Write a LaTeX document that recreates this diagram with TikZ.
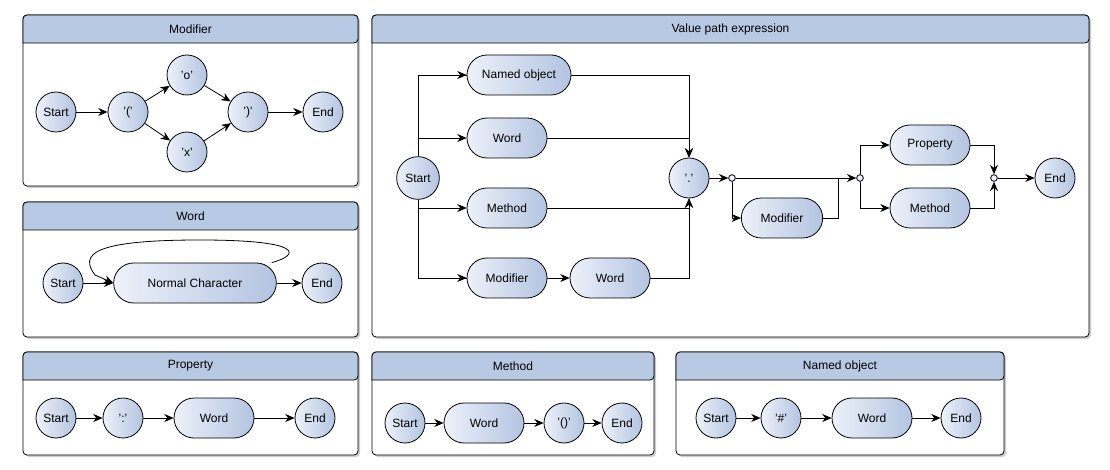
\documentclass[tikz,border=0pt]{standalone}
\usepackage{fontspec}
\setmainfont{Liberation Sans}
\usetikzlibrary{arrows.meta}
\definecolor{hd}{HTML}{B8C9E3}
\definecolor{lt}{HTML}{EDF1F9}
\definecolor{dk}{HTML}{B3C4E1}
\tikzset{
  st/.style={circle,draw,left color=lt,right color=dk,minimum size=30pt,inner sep=0pt,font=\fontsize{9}{10}\selectfont},
  rr/.style={rectangle,draw,rounded corners=15pt,left color=lt,right color=dk,minimum width=60pt,minimum height=30pt,inner sep=0pt,font=\fontsize{9}{10}\selectfont},
  jn/.style={circle,draw,fill=lt,minimum size=5pt,inner sep=0pt},
  ar/.style={-{Stealth[length=7pt,width=6pt]}},
}
\newcommand{\panel}[5]{%
  \fill[black!20,rounded corners=3pt] (#1+2,#2+2) rectangle (#3+2,#4+2);
  \draw[fill=white,rounded corners=3pt] (#1,#2) rectangle (#3,#4);
  \draw[fill=hd,rounded corners=3pt] (#1,#2+28) -- (#1,#2) -- (#3,#2) -- (#3,#2+28) [sharp corners] -- cycle;
  \node[font=\fontsize{9}{10}\selectfont] at ({(#1+#3)/2},#2+14) {#5};}
\begin{document}
\begin{tikzpicture}[x=0.75pt,y=0.75pt,yscale=-1,xscale=1,semithick]
\useasboundingbox (0,0) rectangle (1110,470);
% panels
\panel{23}{15}{358}{186}{Modifier}
\panel{23}{202}{358}{337}{Word}
\panel{23}{352}{358}{455}{Property}
\panel{372}{352}{654}{455}{Method}
\panel{676}{352}{1004}{455}{Named object}
\panel{372}{15}{1089}{337}{Value path expression}

% Modifier
\node[st] (ms) at (56,112) {Start};
\node[st] (mo) at (128,112) {'('};
\node[st] (mx) at (187,75) {'o'};
\node[st] (my) at (187,152) {'x'};
\node[st] (mc) at (248,112) {')'};
\node[st] (me) at (323,112) {End};
\draw[ar] (ms) -- (mo);
\draw[ar] (mo) -- (mx);
\draw[ar] (mo) -- (my);
\draw[ar] (mx) -- (mc);
\draw[ar] (my) -- (mc);
\draw[ar] (mc) -- (me);

% Word
\node[st] (ws) at (63,283) {Start};
\node[rr,minimum width=122pt] (wn) at (195,283) {Normal Character};
\node[st] (we) at (322,283) {End};
\draw[ar] (ws) -- (wn);
\draw[ar] (wn) -- (we);
\draw[ar] (wn.north east) ++(-5,0) .. controls (300,255) and (305,240) .. (200,240) .. controls (90,240) and (80,255) .. (95,275) -- (wn.west);

% Property
\node[st] (ps) at (56,418) {Start};
\node[st] (pc) at (123,418) {':'};
\node[rr] (pw) at (214,418) {Word};
\node[st] (pe) at (315,418) {End};
\draw[ar] (ps) -- (pc);
\draw[ar] (pc) -- (pw);
\draw[ar] (pw) -- (pe);

% Method
\node[st] (ts) at (405,423) {Start};
\node[rr] (tw) at (484,423) {Word};
\node[st] (tp) at (564,423) {'()'};
\node[st] (te) at (622,423) {End};
\draw[ar] (ts) -- (tw);
\draw[ar] (tw) -- (tp);
\draw[ar] (tp) -- (te);

% Named object
\node[st] (ns) at (716,418) {Start};
\node[st] (nh) at (781,418) {'\#'};
\node[rr] (nw) at (872,418) {Word};
\node[st] (ne) at (961,418) {End};
\draw[ar] (ns) -- (nh);
\draw[ar] (nh) -- (nw);
\draw[ar] (nw) -- (ne);

% Value path expression
\node[st,minimum size=32pt] (vs) at (418,178) {Start};
\node[rr,minimum width=78pt] (vn) at (519,75) {Named object};
\node[rr] (vw) at (507,138) {Word};
\node[rr] (vm) at (507,208) {Method};
\node[rr] (vd) at (507,278) {Modifier};
\node[rr] (vw2) at (610,278) {Word};
\node[st] (vp) at (689,178) {'.'};
\node[jn] (j1) at (732,178) {};
\node[rr,minimum width=61pt] (vd2) at (782,218) {Modifier};
\node[jn] (j2) at (860,178) {};
\node[rr] (vq) at (930,145) {Property};
\node[rr] (vt) at (930,208) {Method};
\node[jn] (j3) at (994,178) {};
\node[st] (ve) at (1055,178) {End};
\draw (vs) |- (vn);
\draw (vs) |- (vd);
\draw[ar] (418,75) -- (vn);
\draw[ar] (418,138) -- (vw);
\draw[ar] (418,208) -- (vm);
\draw[ar] (418,278) -- (vd);
\draw[ar] (vd) -- (vw2);
\draw[ar] (vn) -| (vp);
\draw[ar] (vw) -| (vp);
\draw[ar] (vm) -| (vp);
\draw[ar] (vw2) -| (vp);
\draw[ar] (vp) -- (j1);
\draw[ar] (j1) -- (j2);
\draw[ar] (j1) |- (vd2);
\draw (vd2) -| (838,178);
\draw[ar] (j2) |- (vq);
\draw[ar] (j2) |- (vt);
\draw[ar] (vq) -| (j3);
\draw[ar] (vt) -| (j3);
\draw[ar] (j3) -- (ve);
\end{tikzpicture}
\end{document}
